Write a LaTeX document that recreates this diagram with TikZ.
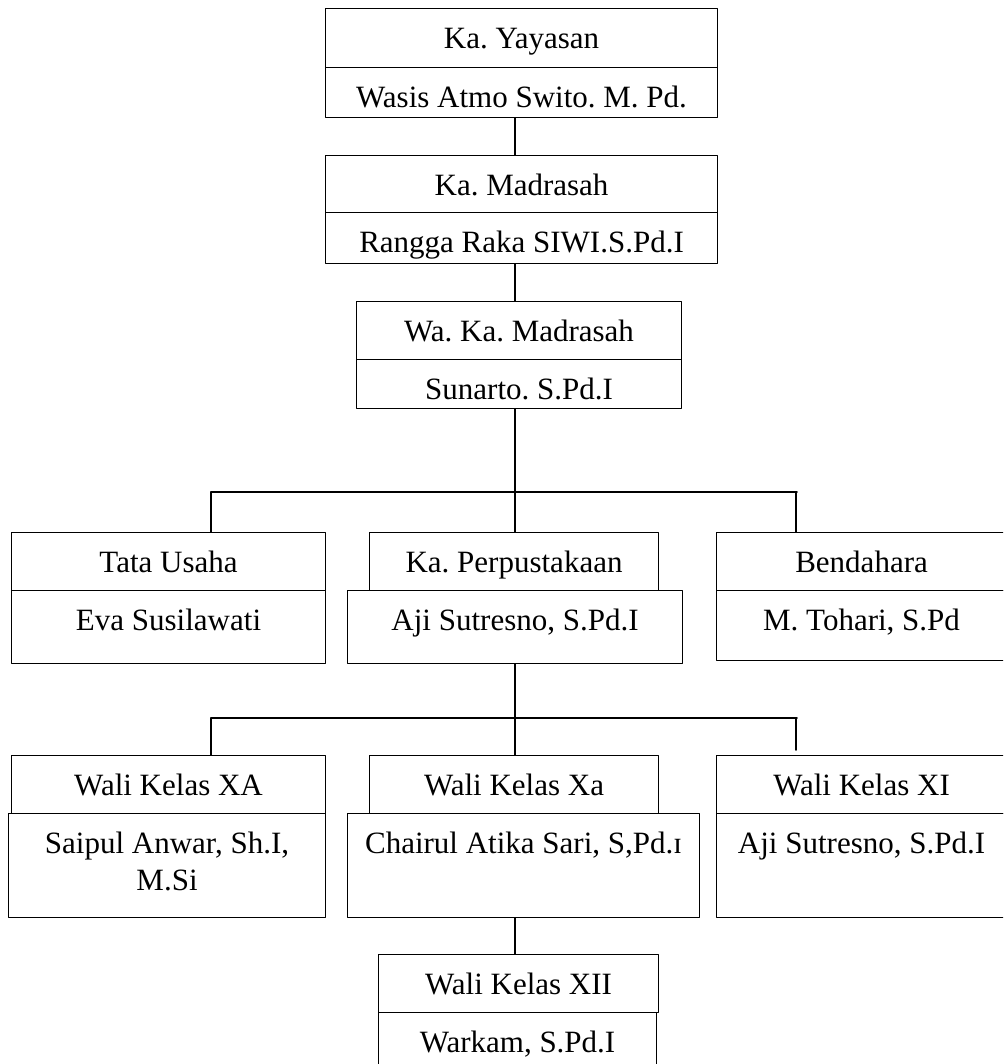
\documentclass[tikz,border=0pt]{standalone}
\usepackage{fontspec}
\setmainfont{Liberation Serif}
\usepackage{tikz}
\usetikzlibrary{arrows}

\tikzset{
  box/.style={draw, line width=1.1pt, inner sep=0pt, anchor=north west,
    text height=40pt, align=center, font=\fontsize{31}{36}\selectfont\frenchspacing},
  link/.style={line width=1.6pt},
}

\begin{document}
\begin{tikzpicture}[line cap=round,line join=round,>=triangle 45,x=1pt,y=-1pt]
        \useasboundingbox (0,0) rectangle (1003,1064);
        \clip (0,0) rectangle (1003,1064);
        \node [box, minimum width=392pt, text depth=19pt] (yaytop) at (325,8) {Ka. Yayasan};
        \node [box, minimum width=392pt, text depth=10pt] (yaybot) at (325,67) {Wasis Atmo Swito. M. Pd.};
        \node [box, minimum width=392pt, text depth=17pt] (madtop) at (325,155) {Ka. Madrasah};
        \node [box, minimum width=392pt, text depth=11pt] (madbot) at (325,212) {Rangga Raka SIWI.S.Pd.I};
        \node [box, minimum width=325pt, text depth=18pt] (wakatop) at (356,301) {Wa. Ka. Madrasah};
        \node [box, minimum width=325pt, text depth=9pt] (wakabot) at (356,359) {Sunarto. S.Pd.I};
        \node [box, minimum width=314pt, text depth=18pt] (tutop) at (11,532) {Tata Usaha};
        \node [box, minimum width=314pt, text depth=33pt] (tubot) at (11,590) {Eva Susilawati};
        \node [box, minimum width=289pt, text depth=18pt] (pustop) at (369,532) {Ka. Perpustakaan};
        \node [box, minimum width=335pt, text depth=33pt] (pusbot) at (347,590) {Aji Sutresno, S.Pd.I};
        \node [box, minimum width=290pt, text depth=18pt] (bentop) at (716,532) {Bendahara};
        \node [box, minimum width=290pt, text depth=30pt] (benbot) at (716,590) {M. Tohari, S.Pd};
        \node [box, minimum width=314pt, text depth=18pt] (xatop) at (11,755) {Wali Kelas XA};
        \node [box, minimum width=317pt, text height=77pt, text depth=27pt] (xabot) at (8,813) {Saipul Anwar, Sh.I,\\[1pt] M.Si};
        \node [box, minimum width=289pt, text depth=18pt] (xkeciltop) at (369,755) {Wali Kelas Xa};
        \node [box, minimum width=352pt, text depth=64pt] (xkecilbot) at (347,813) {Chairul Atika Sari, S,Pd.ɪ};
        \node [box, minimum width=290pt, text depth=18pt] (xitop) at (716,755) {Wali Kelas XI};
        \node [box, minimum width=290pt, text depth=64pt] (xibot) at (716,813) {Aji Sutresno, S.Pd.I};
        \node [box, minimum width=280pt, text depth=18pt] (xiitop) at (378,954) {Wali Kelas XII};
        \node [box, minimum width=278pt, text depth=30pt] (xiibot) at (378,1012) {Warkam, S.Pd.I};
        \coordinate (spine) at (515,0);
        \coordinate (busl) at (211,492);
        \coordinate (busr) at (797,492);
        \coordinate (bus2l) at (211,718);
        \coordinate (bus2r) at (797,718);
        \coordinate (xiend) at (796,750);
        \draw [link] (yaybot.south -| spine) -- (madtop.north -| spine);
        \draw [link] (madbot.south -| spine) -- (wakatop.north -| spine);
        \draw [link] (wakabot.south -| spine) -- (pustop.north -| spine);
        \draw [link] (busl) -- (busr);
        \draw [link] (busl) -- (busl |- tutop.north);
        \draw [link] (busr -| xiend) -- (bentop.north -| xiend);
        \draw [link] (pusbot.south -| spine) -- (xkeciltop.north -| spine);
        \draw [link] (bus2l) -- (bus2r);
        \draw [link] (bus2l) -- (bus2l |- xatop.north);
        \draw [link] (bus2r -| xiend) -- (xiend);
        \draw [link] (xkecilbot.south -| spine) -- (xiitop.north -| spine);
    \end{tikzpicture}
\end{document}
